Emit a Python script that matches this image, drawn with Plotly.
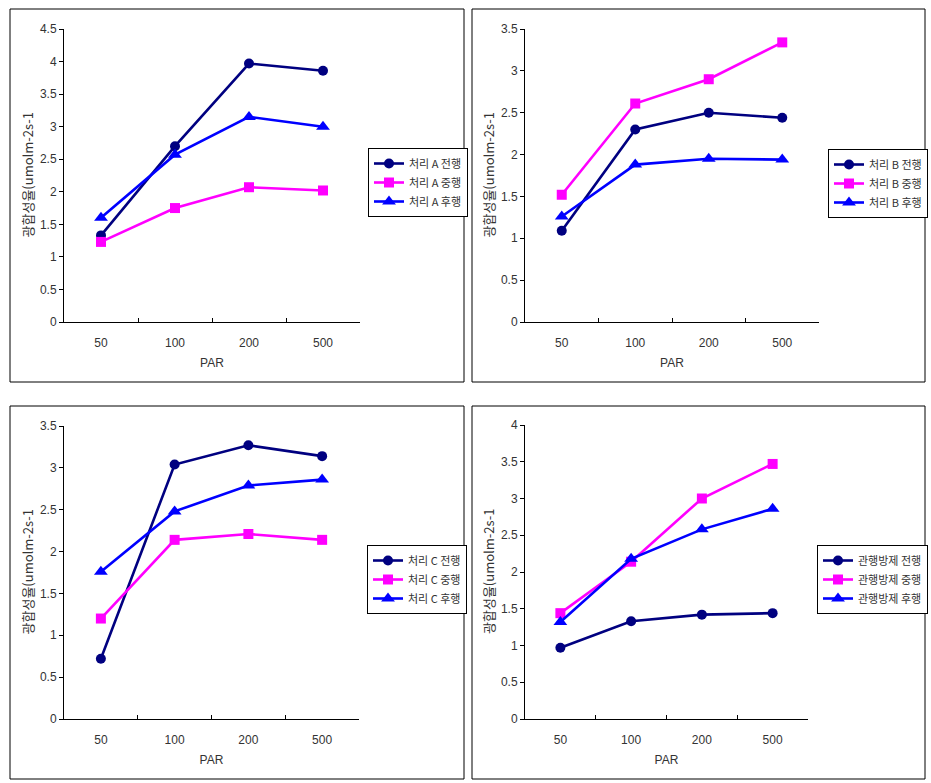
import plotly.graph_objects as go

# ---------------- data ----------------
par_labels = ["50", "100", "200", "500"]

a_names = ["처리 A 전행", "처리 A 중행", "처리 A 후행"]
a_jeon = [1.33, 2.70, 3.97, 3.86]
a_jung = [1.23, 1.75, 2.07, 2.02]
a_hu = [1.60, 2.57, 3.15, 3.00]

b_names = ["처리 B 전행", "처리 B 중행", "처리 B 후행"]
b_jeon = [1.09, 2.30, 2.50, 2.44]
b_jung = [1.52, 2.61, 2.90, 3.34]
b_hu = [1.26, 1.88, 1.95, 1.94]

c_names = ["처리 C 전행", "처리 C 중행", "처리 C 후행"]
c_jeon = [0.72, 3.04, 3.27, 3.14]
c_jung = [1.20, 2.14, 2.21, 2.14]
c_hu = [1.76, 2.48, 2.79, 2.86]

d_names = ["관행방제 전행", "관행방제 중행", "관행방제 후행"]
d_jeon = [0.97, 1.33, 1.42, 1.44]
d_jung = [1.44, 2.14, 3.00, 3.47]
d_hu = [1.32, 2.18, 2.58, 2.86]

y_max = [4.5, 3.5, 3.5, 4]
y_title = "광합성율(umolm-2s-1"
x_title = "PAR"

# ---------------- layout geometry (pixels) ----------------
W, H = 931, 783
panels = [
    dict(px=(64, 360), py=(29, 322), border=(10, 9, 464, 382), leg=(368, 148)),
    dict(px=(525, 819), py=(29, 322), border=(472, 9, 925, 382), leg=(828, 149)),
    dict(px=(64, 359), py=(426, 719), border=(10, 406, 464, 779), leg=(367, 545)),
    dict(px=(525, 808), py=(425, 719), border=(472, 406, 925, 779), leg=(817, 545)),
]
series = [
    (a_names, [a_jeon, a_jung, a_hu]),
    (b_names, [b_jeon, b_jung, b_hu]),
    (c_names, [c_jeon, c_jung, c_hu]),
    (d_names, [d_jeon, d_jung, d_hu]),
]
colors = ["#000080", "#FF00FF", "#0000FF"]
symbols = ["circle", "square", "triangle-up"]
msizes = [10, 10, 12]

TXT = "#333333"
NUMFONT = "Liberation Sans"
KFONT = "Noto Sans CJK KR"

fig = go.Figure()
layout = dict(
    width=W, height=H,
    margin=dict(l=0, r=0, t=0, b=0, pad=0, autoexpand=False),
    paper_bgcolor="white", plot_bgcolor="white",
    showlegend=True,
    shapes=[], annotations=[],
)

for i, (p, (names, vals)) in enumerate(zip(panels, series)):
    n = "" if i == 0 else str(i + 1)
    xa, ya = "xaxis" + n, "yaxis" + n
    lg = "legend" + n
    for j in range(3):
        fig.add_trace(go.Scatter(
            x=par_labels, y=vals[j], name=names[j],
            mode="lines+markers",
            line=dict(color=colors[j], width=2.6),
            marker=dict(color=colors[j], symbol=symbols[j], size=msizes[j]),
            xaxis="x" + n, yaxis="y" + n, legend=lg,
        ))
    x0, x1 = p["px"]
    yt, yb = p["py"]
    layout[xa] = dict(
        domain=[x0 / W, x1 / W], anchor="y" + n, automargin=False,
        type="category", categoryorder="array", categoryarray=par_labels,
        range=[-0.5, 3.5], tickson="boundaries", ticks="inside", ticklen=4,
        tickcolor="black", showline=True, linecolor="black", linewidth=1,
        showgrid=False, zeroline=False, ticklabelstandoff=10,
        tickfont=dict(family=NUMFONT, size=12, color=TXT),
        title=dict(text=x_title, font=dict(family=NUMFONT, size=12, color=TXT), standoff=9),
    )
    layout[ya] = dict(
        domain=[1 - yb / H, 1 - yt / H], anchor="x" + n, automargin=False,
        range=[0, y_max[i]], dtick=0.5, ticks="outside", ticklen=4,
        tickcolor="black", showline=True, linecolor="black", linewidth=1,
        showgrid=False, zeroline=False,
        tickfont=dict(family=NUMFONT, size=12, color=TXT),
    )
    layout[lg] = dict(
        x=p["leg"][0] / W, y=1 - p["leg"][1] / H, xanchor="left", yanchor="top",
        bordercolor="black", borderwidth=1, bgcolor="white",
        font=dict(family=KFONT, size=11, color=TXT),
        itemwidth=30, tracegroupgap=0,
    )
    bx0, by0, bx1, by1 = p["border"]
    layout["shapes"].append(dict(
        type="rect", xref="paper", yref="paper",
        x0=bx0 / W, x1=bx1 / W, y0=1 - by1 / H, y1=1 - by0 / H,
        line=dict(color="black", width=1), fillcolor="rgba(0,0,0,0)",
    ))
    layout["annotations"].append(dict(
        text=y_title, xref="paper", yref="paper",
        x=(x0 - 37) / W, y=1 - ((yt + yb) / 2) / H,
        xanchor="center", yanchor="middle", textangle=-90, showarrow=False,
        font=dict(family=KFONT, size=13, color=TXT),
    ))

fig.update_layout(**layout)
fig.write_html(
    "out.html",
    config={"displayModeBar": False},
    post_script="document.body.style.margin='0';document.body.style.padding='0';"
                "document.body.style.overflow='hidden';"
                "document.documentElement.style.overflow='hidden';",
)
